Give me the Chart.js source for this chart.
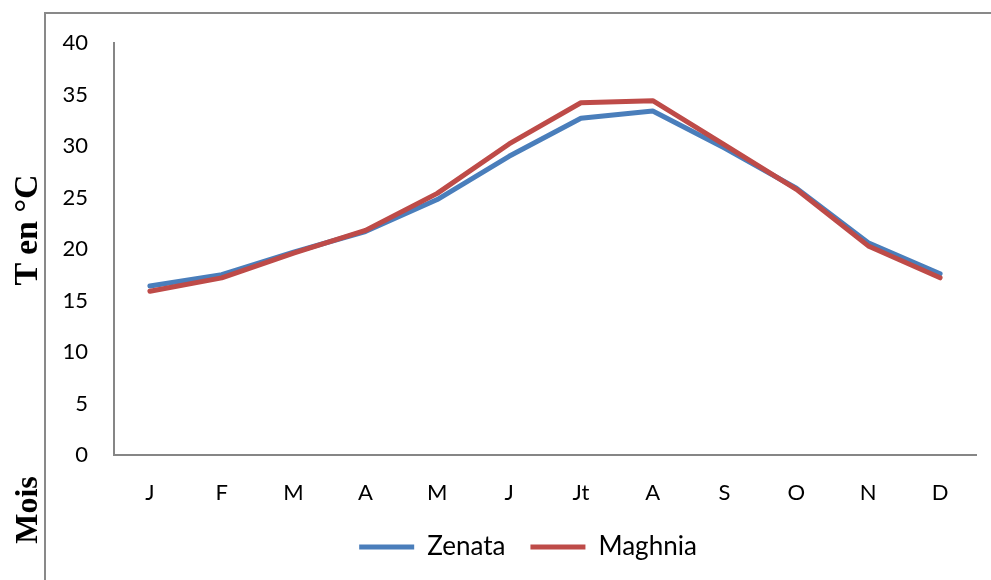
<!DOCTYPE html>
<html lang="fr">
<head>
    <meta charset="UTF-8">
    <title>Températures moyennes mensuelles</title>
    <script src="https://cdn.jsdelivr.net/npm/chart.js"></script>
    <style>
        html, body {
            margin: 0;
            padding: 0;
            background: #fff;
            overflow: hidden;
        }

        #frame {
            position: absolute;
            left: 44px;
            top: 12px;
            width: 1000px;
            height: 600px;
            border-left: 2px solid #898989;
            border-top: 2px solid #898989;
        }

        #chart-box {
            position: absolute;
            left: 0;
            top: 0;
            width: 991px;
            height: 580px;
        }

        .axis-title {
            position: absolute;
            font-family: "Liberation Serif", "Times New Roman", serif;
            font-weight: bold;
            font-size: 32px;
            color: #000;
            white-space: nowrap;
            transform: translate(-50%, -50%) rotate(-90deg);
        }
    </style>
</head>
<body>
    <div id="frame"></div>
    <div id="chart-box">
        <canvas id="temp-chart" width="991" height="580"></canvas>
    </div>
    <div class="axis-title" style="left: 26px; top: 230px; font-size: 34px;">T en °C</div>
    <div class="axis-title" style="left: 26px; top: 510px;">Mois</div>

    <script>
        // mois
        const months = ['J', 'F', 'M', 'A', 'M', 'J', 'Jt', 'A', 'S', 'O', 'N', 'D'];

        // températures moyennes (°C)
        const zenata = [16.4, 17.5, 19.7, 21.7, 24.8, 29.0, 32.7, 33.4, 29.8, 25.9, 20.6, 17.6];
        const maghnia = [15.9, 17.2, 19.6, 21.8, 25.4, 30.2, 34.2, 34.4, 30.1, 25.8, 20.3, 17.2];

        const yTicks = [0, 5, 10, 15, 20, 25, 30, 35, 40];

        const tickFont = { family: 'Lato', size: 22 };

        // décale la légende vers la droite, comme dans l'original
        const legendShift = {
            id: 'legendShift',
            afterLayout(chart) {
                chart.legend.left += 40;
                chart.legend.right += 40;
            }
        };

        const ctx = document.getElementById('temp-chart').getContext('2d');
        const tempChart = new Chart(ctx, {
            type: 'line',
            data: {
                labels: months,
                datasets: [{
                    label: 'Zenata',
                    data: zenata,
                    borderColor: '#4a7ebb',
                    backgroundColor: '#4a7ebb',
                    borderWidth: 5,
                    borderCapStyle: 'round',
                    borderJoinStyle: 'round',
                    pointRadius: 0,
                    tension: 0,
                    order: 1
                }, {
                    label: 'Maghnia',
                    data: maghnia,
                    borderColor: '#be4b48',
                    backgroundColor: '#be4b48',
                    borderWidth: 5,
                    borderCapStyle: 'round',
                    borderJoinStyle: 'round',
                    pointRadius: 0,
                    tension: 0,
                    order: 0
                }]
            },
            options: {
                responsive: false,
                animation: false,
                layout: {
                    padding: { top: 43, left: 0, right: 15, bottom: 10 }
                },
                scales: {
                    x: {
                        offset: true,
                        grid: { display: false, drawTicks: false },
                        border: { color: '#868686', width: 2 },
                        ticks: { color: '#000', font: tickFont, padding: 25, maxRotation: 0 },
                        afterFit: s => { s.height = 54; }
                    },
                    y: {
                        min: 0,
                        max: 40,
                        afterBuildTicks: s => { s.ticks = yTicks.map(v => ({ value: v })); },
                        grid: { display: false, drawTicks: false },
                        border: { color: '#868686', width: 2 },
                        ticks: { color: '#000', font: tickFont, padding: 26 },
                        afterFit: s => { s.width = 114; }
                    }
                },
                plugins: {
                    tooltip: { enabled: false },
                    legend: {
                        position: 'bottom',
                        labels: {
                            color: '#000',
                            font: { family: 'Lato', size: 26 },
                            usePointStyle: true,
                            pointStyle: 'line',
                            pointStyleWidth: 55,
                            padding: 25,
                            sort: (a, b) => a.datasetIndex - b.datasetIndex
                        }
                    }
                }
            },
            plugins: [legendShift]
        });
    </script>
</body>
</html>
